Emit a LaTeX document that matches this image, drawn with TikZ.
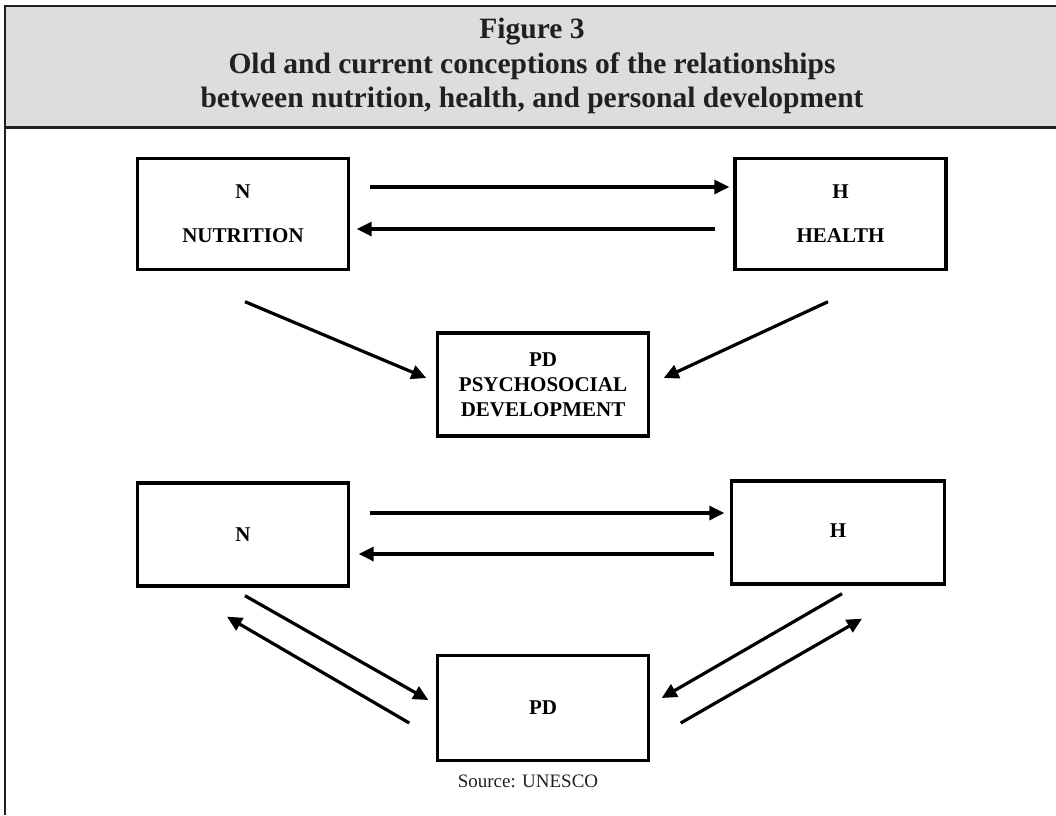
\documentclass[tikz,border=0pt]{standalone}
\usepackage{fontspec}
\setmainfont{Liberation Serif}
\usepackage{tikz}
\usetikzlibrary{arrows.meta}
\definecolor{headgray}{RGB}{220,221,223}
\definecolor{inkgray}{RGB}{35,31,32}
\tikzset{box/.style={draw, line width=3.4pt, minimum width=211pt, minimum height=103pt, inner sep=0pt, align=center, font=\fontsize{21}{25}\selectfont\bfseries}}
\tikzset{arr/.style={-{Triangle[length=15pt, width=14pt]}, line width=3.2pt}}
\tikzset{title/.style={align=center, text=inkgray, font=\fontsize{29.5}{34.5}\selectfont\bfseries}}
\tikzset{source/.style={text=inkgray, font=\fontsize{19}{23}\selectfont}}

\begin{document}
\begin{tikzpicture}[x=1pt, y=-1pt]
\useasboundingbox (0,0) rectangle (1056,815);
\fill[headgray] (5,6) rectangle (1056,128);
\draw[inkgray, line width=2pt] (5,815) -- (5,6) -- (1056,6);
\draw[inkgray, line width=2.6pt] (5,127.5) -- (1056,127.5);

\node[title] (fig) at (532,66) {Figure 3\\Old and current conceptions of the relationships\\between nutrition, health, and personal development};

\node[box, minimum height=111pt] (N1) at (243,214) {N\\[19pt]NUTRITION};
\node[box, minimum height=111pt] (H1) at (840.5,214) {H\\[19pt]HEALTH};
\node[box] (PD1) at (543,384.5) {PD\\PSYCHOSOCIAL\\DEVELOPMENT};

\node[box] (N2) at (243,534.5) {N};
\node[box, minimum width=213pt] (H2) at (838,532.5) {\raisebox{3pt}{H}};
\node[box, minimum height=105pt] (PD2) at (543,708) {PD};

\node[source] (src) at (528,781) {Source: UNESCO};

\draw[arr] ([shift={(19.5,-27)}]N1.east) -- ([shift={(-4,-27)}]H1.west);
\draw[arr] ([shift={(-18,15)}]H1.west) -- ([shift={(6.5,15)}]N1.east);
\draw[arr] ([shift={(2,30.5)}]N1.south) -- ([shift={(-9.5,-6.5)}]PD1.west);
\draw[arr] ([shift={(-12.5,30.5)}]H1.south) -- ([shift={(13.5,-6.5)}]PD1.east);

\draw[arr] ([shift={(19.5,-21.5)}]N2.east) -- ([shift={(-5.5,-19.5)}]H2.west);
\draw[arr] ([shift={(-15.5,21.5)}]H2.west) -- ([shift={(8.5,19.5)}]N2.east);
\draw[arr] ([shift={(2,8)}]N2.south) -- ([shift={(-7.5,-8)}]PD2.west);
\draw[arr] ([shift={(-26.5,15)}]PD2.west) -- ([shift={(-16,29)}]N2.south);
\draw[arr] ([shift={(4,8)}]H2.south) -- ([shift={(11.5,-10)}]PD2.east);
\draw[arr] ([shift={(30.5,15)}]PD2.east) -- ([shift={(24,33)}]H2.south);
\end{tikzpicture}
\end{document}
